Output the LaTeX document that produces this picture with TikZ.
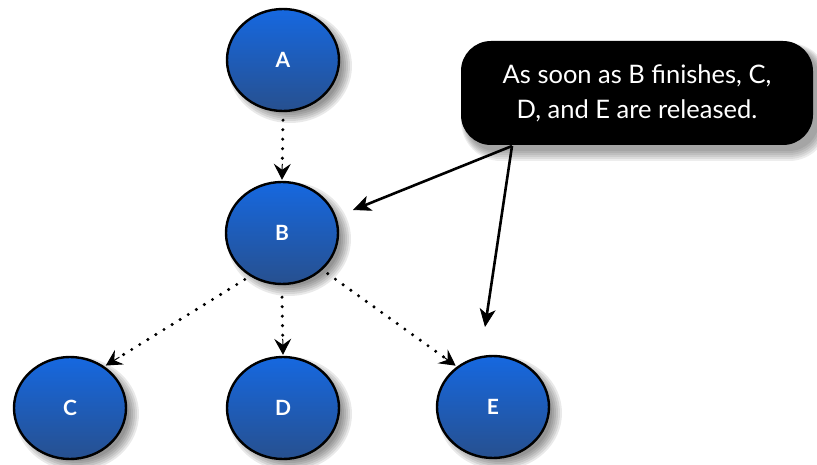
\documentclass[tikz,border=0pt]{standalone}
\usepackage{fontspec}
\setmainfont{Lato}
\usetikzlibrary{shapes.geometric,arrows.meta,calc}

\definecolor{jobtop}{HTML}{1668E0}
\definecolor{jobbottom}{HTML}{27508F}

\tikzset{
  job/.style={ellipse, draw=black, line width=2.4pt, minimum width=112pt,
    minimum height=102pt, inner sep=0pt, top color=jobtop, bottom color=jobbottom,
    text=white, font=\fontsize{21}{21}\selectfont\bfseries},
  release/.style={line width=3.4pt, dash pattern=on 0pt off 9.5pt, line cap=round,
    shorten >=14pt},
  releasehead/.style={line width=1pt, solid,
    -{Stealth[length=16pt,width=17pt,inset=6pt]}},
  pointer/.style={line width=2.6pt, -{Stealth[length=18pt,width=16pt,inset=5pt,line width=0.8pt]}},
  note/.style={fill=black, rounded corners=30pt, minimum width=352pt,
    minimum height=104pt, text=white, align=center,
    font=\fontsize{25.5}{35}\selectfont},
}

% soft shadow beneath an ellipse centred at #1
\newcommand{\softshadow}[1]{%
  \foreach \s in {10,8,6,4,2,0}
    \fill[black, opacity=0.085] ($(#1)+(7,6)$) ellipse [x radius=52+\s, y radius=47+\s];
}

% dotted dependency from #1 to #2 with a solid head
\newcommand{\depends}[2]{%
  \draw[release] #1 -- #2;
  \draw[releasehead] ($#2!16pt!#1$) -- #2;
}

\begin{document}
\begin{tikzpicture}[x=1pt, y=-1pt]
  \useasboundingbox (0,0) rectangle (817,465);

  % shadows
  \softshadow{283,60}
  \softshadow{282,233}
  \softshadow{70,408}
  \softshadow{283,408}
  \softshadow{493,407}
  \foreach \s in {10,8,6,4,2,0}
    \fill[black, opacity=0.07, rounded corners=30pt+\s pt]
      (466-\s*0.5, 48-\s*0.5) rectangle (819+\s, 151+\s);

  % jobs
  \node[job] (A) at (283,60) {A};
  \node[job] (B) at (282,233) {B};
  \node[job] (C) at (70,408) {C};
  \node[job] (D) at (283,408) {D};
  \node[job] (E) at (493,407) {E};

  % explanatory note
  \node[note] (N) at (637,93) {As soon as B finishes, C,\\D, and E are released.};
  \coordinate (Nfoot) at (512,146);

  % dependencies
  \coordinate (Aout) at ($(A.south)+(0,8)$);
  \coordinate (BoutC) at ($(B.-128)+(-4,4)$);
  \coordinate (BoutD) at ($(B.south)+(0,12)$);
  \coordinate (BoutE) at ($(B.-42)+(5,4)$);
  \coordinate (Bin) at ($(B.north)+(0,-1)$);
  \coordinate (Cin) at ($(C.50)+(1,-1)$);
  \coordinate (Din) at ($(D.north)+(0,-1)$);
  \coordinate (Ein) at ($(E.132)+(-1,-1)$);
  \depends{(Aout)}{(Bin)}
  \depends{(BoutC)}{(Cin)}
  \depends{(BoutD)}{(Din)}
  \depends{(BoutE)}{(Ein)}

  % pointers from the note
  \coordinate (Bpt) at (353,210);
  \coordinate (Ept) at (485,327);
  \draw[pointer] (Nfoot) -- (Bpt);
  \draw[pointer] (Nfoot) -- (Ept);
\end{tikzpicture}
\end{document}
